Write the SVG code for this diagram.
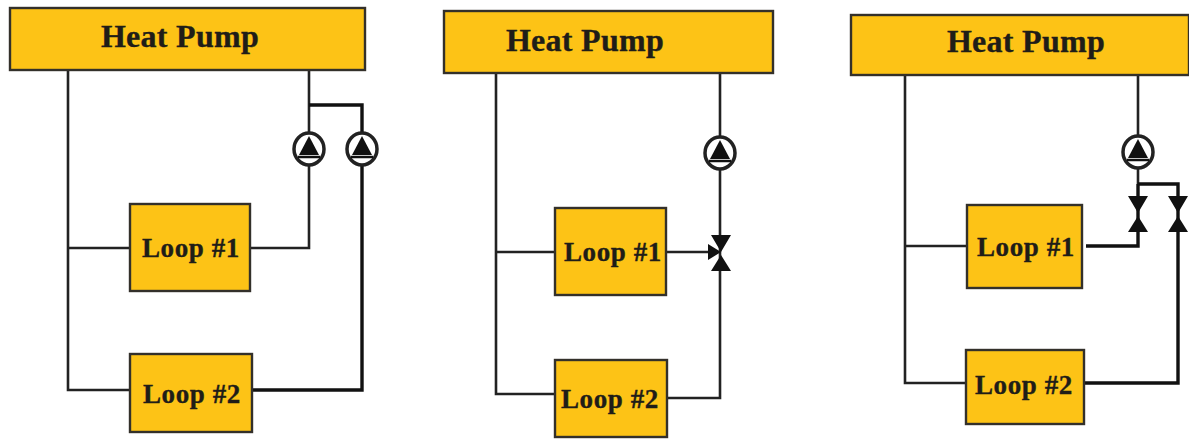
<svg xmlns="http://www.w3.org/2000/svg" width="1189" height="440" viewBox="0 0 1189 440">
<style>
.box{fill:#fdc316;stroke:#33302a;stroke-width:2.4}
.t{font-family:"Liberation Serif",serif;font-weight:bold;fill:#1f1d18;stroke:#1f1d18;stroke-width:.35;text-anchor:middle}
.h{font-size:32px;letter-spacing:.3px}
.l{font-size:27px;letter-spacing:.6px}
.w{fill:none;stroke:#222;stroke-width:2.6}
.k{fill:none;stroke:#111;stroke-width:3.4}
.c{fill:#fff;stroke:#222;stroke-width:3.5}
.a{fill:#111;stroke:none}
</style>
<defs>
<g id="pump"><ellipse rx="15" ry="16" class="c"/><path class="a" d="M0-13 L10 6 H-10Z"/><path d="M-11 8H11" stroke="#111" stroke-width="2.5"/></g>
<g id="valve"><path class="a" d="M-10-19H10L0-2ZM-10 17H10L0 1Z"/></g>
</defs>
<rect width="1189" height="440" fill="#fff"/>
<g id="connectors">
<path class="w" d="M68 70V390H130M68 248H131M309 70V248H250"/>
<path class="k" d="M309 105H362V390H252"/>
<path class="w" d="M496 73V394H555M496 252H556M720 73V398H667"/>
<path class="w" d="M667 252H712"/>
<path class="a" d="M708 244 L721 252 L708 260Z"/>
<path class="w" d="M905 75V383H966M905 246H967M1138 75V184"/>
<path class="k" d="M1138 184H1178V383H1085M1138 184V246H1086"/>
</g>
<g id="pump-1a"><use href="#pump" x="309" y="149"/></g>
<g id="pump-1b"><use href="#pump" x="362" y="149"/></g>
<g id="pump-2"><use href="#pump" x="720" y="153"/></g>
<g id="pump-3"><use href="#pump" x="1138" y="152"/></g>
<g id="valve-2"><use href="#valve" x="721" y="254"/></g>
<g id="valve-3a"><use href="#valve" x="1138" y="215"/></g>
<g id="valve-3b"><use href="#valve" x="1178" y="215"/></g>
<g id="hp-1"><rect class="box" x="10" y="8" width="355" height="62"/><text class="t h" x="180" y="47">Heat Pump</text></g>
<g id="loop-1-1"><rect class="box" x="130" y="204" width="120" height="87"/><text class="t l" x="191" y="257">Loop #1</text></g>
<g id="loop-1-2"><rect class="box" x="130" y="354" width="122" height="78"/><text class="t l" x="192" y="403">Loop #2</text></g>
<g id="hp-2"><rect class="box" x="444" y="11" width="329" height="62"/><text class="t h" x="585" y="51">Heat Pump</text></g>
<g id="loop-2-1"><rect class="box" x="555" y="208" width="111" height="87"/><text class="t l" x="613" y="261">Loop #1</text></g>
<g id="loop-2-2"><rect class="box" x="555" y="360" width="112" height="77"/><text class="t l" x="610" y="408">Loop #2</text></g>
<g id="hp-3"><rect class="box" x="851" y="15" width="338" height="60"/><text class="t h" x="1026" y="52">Heat Pump</text></g>
<g id="loop-3-1"><rect class="box" x="967" y="205" width="115" height="83"/><text class="t l" x="1026" y="256">Loop #1</text></g>
<g id="loop-3-2"><rect class="box" x="966" y="350" width="118" height="74"/><text class="t l" x="1024" y="394">Loop #2</text></g>
</svg>
